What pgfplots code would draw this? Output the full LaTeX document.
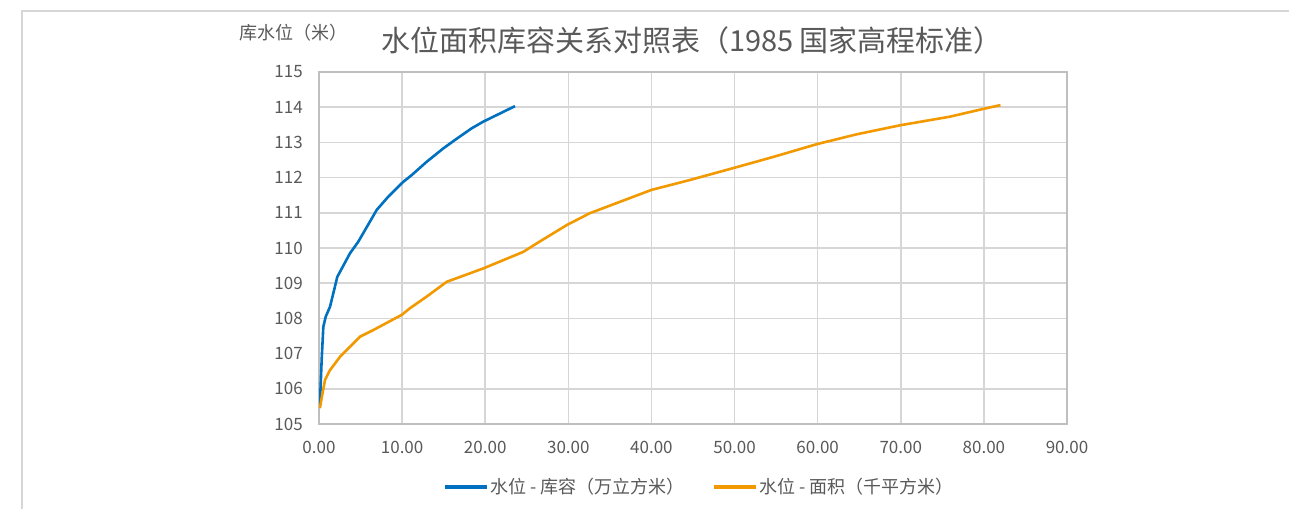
\documentclass[border=0pt]{standalone}
\usepackage{fontspec}
\setmainfont{Noto Sans CJK SC}
\usepackage{pgfplots}
\pgfplotsset{compat=1.18}
\definecolor{txt}{RGB}{89,89,89}
\definecolor{gridc}{RGB}{214,214,214}
\definecolor{boxc}{RGB}{191,191,191}
\definecolor{sblue}{RGB}{0,112,192}
\definecolor{sorange}{RGB}{242,153,0}
\begin{document}
\begin{tikzpicture}
\path[use as bounding box] (0,0) rectangle (1289bp,509bp);
\draw[gridc, line width=1.2bp] (22bp,0) -- (22bp,498bp) -- (1289bp,498bp);
\node[txt, font=\fontsize{29bp}{31bp}\selectfont] at (692bp,469bp) {水位面积库容关系对照表（1985 国家高程标准）};
\node[txt, font=\fontsize{18bp}{20bp}\selectfont] at (293bp,476bp) {库水位（米）};
\begin{axis}[
  at={(319bp,85bp)}, anchor=south west,
  scale only axis, width=748bp, height=352bp,
  xmin=0, xmax=90, ymin=105, ymax=115,
  xtick={0,10,...,90}, ytick={105,106,...,115},
  grid=major,
  major grid style={gridc, line width=1.5bp},
  axis line style={boxc, line width=2.2bp},
  major tick length=0pt,
  /pgf/number format/assume math mode=true,
  tick label style={txt, font=\fontsize{17bp}{19bp}\selectfont},
  xticklabel style={/pgf/number format/fixed, /pgf/number format/precision=2, /pgf/number format/fixed zerofill, inner sep=0pt, yshift=-17bp},
  yticklabel style={/pgf/number format/fixed, inner sep=0pt, xshift=-16bp},
  scaled ticks=false,
  legend style={at={(0.508,-0.179)}, anchor=center, draw=none, fill=none,
    font=\fontsize{18bp}{20bp}\selectfont, text=txt,
    /tikz/every even column/.append style={column sep=26bp},
    nodes={inner sep=1.5bp}},
  legend columns=2,
  legend image code/.code={\draw[#1, line width=4bp] (0bp,0bp) -- (42bp,0bp);},
  legend cell align=left,
]
\addplot[sblue, line width=2.6bp, line join=round] coordinates {
(0.1,105.5) (0.32,106.82) (0.52,107.76) (0.81,108.05) (1.32,108.33) (1.72,108.71)
(2.2,109.18) (3.73,109.85) (4.73,110.18) (6.94,111.08) (8.34,111.46) (10.14,111.88)
(11.15,112.07) (12.96,112.45) (14.96,112.83) (16.36,113.07) (18.37,113.40)
(19.77,113.59) (23.58,114.03)
};
\addlegendentry{水位 - 库容（万立方米）}
\addplot[sorange, line width=2.6bp, line join=round] coordinates {
(0.1,105.45) (0.72,106.25) (1.32,106.53) (2.53,106.91) (4.93,107.48) (6.54,107.67)
(9.95,108.10) (10.95,108.29) (12.96,108.62) (15.37,109.04) (19.77,109.42)
(24.58,109.89) (26.19,110.13) (29.80,110.65) (32.6,110.99) (40.0,111.65)
(44.6,111.93) (50.0,112.28) (54.7,112.59) (59.9,112.95) (64.7,113.23)
(70.0,113.49) (75.9,113.73) (79.9,113.95) (82.0,114.06)
};
\addlegendentry{水位 - 面积（千平方米）}
\end{axis}
\end{tikzpicture}
\end{document}
